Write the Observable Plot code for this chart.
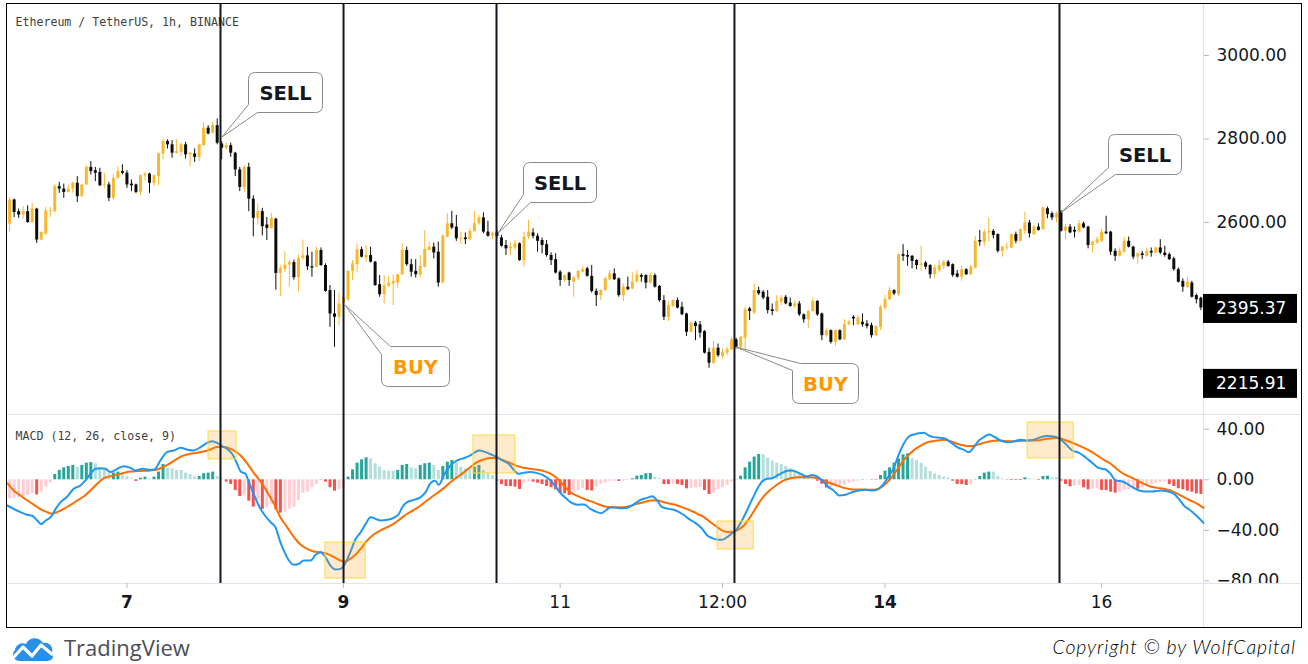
<!DOCTYPE html>
<html><head><meta charset="utf-8">
<script src="https://cdn.jsdelivr.net/npm/d3@7"></script>
<script src="https://cdn.jsdelivr.net/npm/@observablehq/plot@0.6"></script>
<style>
html,body{margin:0;padding:0;background:#fff;}
#root{position:relative;width:1308px;height:664px;overflow:hidden;background:#fff;}
.abs{position:absolute;}
.sep{position:absolute;background:#e0e3eb;}
</style></head><body><div id="root"></div>
<script>
// ---------------- DATA ----------------
const startTime = "2021-06-05T22:00:00Z"; // first hourly bar
const open = [2596,2654,2626,2618,2626,2600,2632,2558,2572,2626,2626,2686,2680,2672,2680,2694,2662,2690,2732,2724,2720,2688,2690,2658,2706,2722,2718,2692,2690,2672,2712,2716,2694,2710,2764,2794,2786,2766,2768,2786,2762,2764,2756,2784,2826,2814,2832,2788,2778,2784,2766,2726,2684,2732,2656,2610,2626,2594,2586,2608,2478,2488,2498,2504,2468,2514,2520,2494,2493,2533,2497,2437,2381,2373,2407,2415,2483,2499,2535,2515,2521,2505,2451,2427,2447,2453,2455,2475,2533,2499,2483,2474,2493,2533,2541,2529,2455,2565,2597,2589,2559,2563,2559,2579,2597,2611,2577,2568,2575,2563,2545,2537,2539,2549,2509,2565,2575,2567,2557,2547,2521,2511,2481,2461,2479,2457,2467,2481,2489,2471,2435,2425,2437,2463,2477,2465,2425,2445,2441,2457,2473,2473,2455,2473,2447,2413,2373,2399,2413,2397,2381,2337,2359,2355,2339,2289,2263,2299,2279,2287,2295,2319,2301,2323,2393,2383,2437,2433,2421,2391,2387,2409,2421,2407,2399,2405,2379,2367,2387,2411,2381,2329,2341,2313,2341,2319,2355,2373,2355,2361,2357,2353,2329,2349,2395,2415,2437,2427,2523,2521,2519,2509,2497,2503,2497,2475,2485,2495,2505,2499,2477,2469,2487,2475,2491,2557,2553,2575,2579,2571,2531,2539,2539,2571,2555,2579,2599,2571,2589,2583,2633,2621,2611,2625,2579,2589,2581,2577,2597,2589,2545,2551,2555,2577,2577,2531,2519,2529,2555,2541,2517,2525,2519,2531,2527,2539,2527,2523,2513,2487,2459,2445,2455,2425,2419];
const high = [2660,2656,2632,2638,2640,2646,2634,2578,2636,2636,2690,2696,2692,2690,2696,2710,2692,2736,2746,2732,2730,2718,2696,2714,2734,2738,2724,2702,2692,2714,2720,2718,2714,2766,2800,2798,2796,2798,2790,2792,2768,2776,2788,2840,2832,2840,2848,2794,2790,2790,2768,2732,2736,2742,2664,2644,2634,2612,2622,2610,2496,2530,2510,2510,2522,2558,2540,2529,2541,2539,2501,2449,2437,2431,2425,2485,2509,2549,2541,2545,2541,2507,2473,2473,2471,2473,2475,2549,2541,2512,2511,2521,2581,2553,2551,2553,2571,2621,2627,2617,2577,2575,2585,2627,2617,2623,2603,2577,2581,2569,2557,2551,2557,2551,2577,2605,2585,2573,2563,2557,2527,2525,2485,2475,2481,2471,2485,2495,2493,2497,2441,2439,2469,2485,2489,2467,2453,2469,2479,2485,2477,2475,2479,2477,2449,2425,2411,2415,2419,2409,2383,2361,2363,2363,2341,2299,2315,2309,2297,2301,2325,2323,2327,2397,2397,2453,2445,2437,2437,2405,2425,2425,2425,2419,2413,2411,2381,2389,2419,2413,2383,2345,2343,2343,2343,2367,2365,2377,2377,2381,2365,2359,2353,2401,2425,2445,2439,2525,2547,2533,2521,2511,2543,2507,2499,2497,2509,2509,2509,2501,2485,2497,2489,2497,2567,2581,2583,2611,2583,2573,2543,2551,2573,2577,2585,2625,2605,2593,2597,2637,2637,2625,2625,2629,2595,2595,2589,2605,2601,2591,2555,2565,2585,2615,2579,2537,2539,2565,2565,2543,2527,2531,2539,2539,2541,2559,2543,2527,2517,2491,2465,2469,2459,2429,2421];
const low = [2578,2612,2610,2608,2598,2598,2550,2556,2570,2612,2624,2670,2658,2670,2670,2648,2660,2688,2714,2698,2686,2682,2650,2652,2704,2714,2682,2674,2669,2664,2700,2670,2686,2688,2750,2776,2754,2764,2758,2752,2734,2744,2746,2782,2810,2812,2786,2750,2774,2756,2710,2674,2672,2626,2566,2594,2568,2557,2584,2438,2422,2480,2446,2462,2434,2510,2485,2469,2491,2495,2433,2349,2301,2353,2397,2411,2461,2479,2515,2505,2503,2447,2421,2405,2445,2401,2443,2473,2495,2469,2467,2467,2491,2533,2513,2445,2453,2563,2583,2555,2547,2547,2557,2577,2593,2573,2565,2559,2565,2541,2521,2521,2533,2507,2493,2559,2561,2529,2525,2517,2497,2477,2447,2457,2447,2421,2461,2479,2469,2431,2399,2413,2435,2461,2461,2421,2411,2437,2439,2455,2457,2441,2453,2443,2409,2365,2363,2397,2393,2377,2327,2335,2317,2323,2285,2251,2259,2277,2273,2281,2293,2297,2293,2295,2365,2379,2425,2415,2381,2377,2385,2401,2403,2397,2393,2375,2359,2347,2385,2375,2317,2325,2309,2303,2317,2317,2353,2353,2353,2349,2345,2323,2327,2341,2389,2413,2425,2423,2507,2495,2489,2487,2483,2487,2465,2467,2479,2487,2493,2469,2467,2459,2473,2473,2489,2543,2543,2553,2561,2527,2517,2533,2537,2549,2553,2571,2563,2569,2579,2581,2609,2605,2599,2577,2559,2573,2563,2575,2585,2537,2527,2547,2551,2571,2521,2507,2517,2527,2539,2511,2499,2511,2517,2517,2525,2523,2517,2509,2483,2455,2433,2443,2419,2405,2389];
const close = [2654,2624,2618,2626,2600,2632,2558,2576,2628,2628,2686,2680,2672,2680,2694,2662,2690,2732,2722,2718,2688,2690,2658,2706,2722,2718,2690,2688,2672,2712,2716,2694,2712,2764,2794,2786,2766,2770,2786,2762,2766,2756,2786,2826,2812,2832,2790,2778,2784,2766,2726,2684,2732,2656,2610,2626,2590,2586,2610,2478,2490,2498,2504,2468,2514,2520,2494,2491,2533,2497,2435,2381,2373,2405,2419,2483,2501,2535,2517,2521,2505,2449,2427,2449,2455,2459,2475,2533,2499,2481,2475,2495,2535,2541,2527,2455,2567,2597,2587,2561,2562,2559,2579,2597,2611,2577,2567,2573,2567,2543,2537,2541,2549,2509,2565,2577,2567,2555,2545,2521,2509,2479,2461,2473,2461,2467,2483,2487,2471,2435,2425,2437,2465,2477,2463,2425,2445,2439,2457,2475,2469,2455,2473,2445,2413,2373,2401,2413,2395,2379,2337,2359,2351,2335,2287,2263,2299,2281,2289,2295,2319,2301,2325,2391,2387,2437,2429,2419,2389,2387,2411,2419,2405,2399,2405,2379,2367,2387,2411,2379,2329,2341,2313,2341,2319,2356,2361,2369,2371,2355,2351,2329,2351,2397,2415,2437,2429,2523,2519,2517,2507,2497,2501,2493,2475,2491,2497,2505,2495,2473,2469,2487,2475,2493,2555,2553,2577,2579,2569,2531,2541,2541,2571,2555,2583,2599,2573,2589,2581,2635,2619,2611,2621,2579,2589,2575,2577,2597,2587,2545,2553,2559,2577,2573,2529,2519,2531,2555,2541,2517,2525,2521,2531,2527,2539,2527,2521,2511,2487,2457,2445,2457,2421,2415,2395.37];

const histogram = [-15.0,-14.8,-14.3,-13.2,-12.4,-11.1,-12.0,-9.8,-5.8,-2.6,4.2,7.4,9.5,10.6,11.4,10.0,11.4,13.2,13.6,12.7,8.7,7.4,4.8,5.3,6.1,5.3,2.6,0.8,-1.3,1.3,2.1,0.8,2.1,6.1,12.1,9.2,8.7,7.4,7.4,5.3,4.2,2.3,2.6,4.8,5.3,6.1,2.6,0.8,-1.8,-3.7,-8.4,-13.2,-12.8,-16.9,-21.6,-16.4,-23.5,-22.4,-19.0,-24.0,-26.4,-25.6,-23.0,-21.6,-16.4,-10.6,-9.8,-6.3,-3.7,0.3,-1.8,-6.3,-9.0,-7.9,-5.8,2.1,7.9,13.2,15.8,17.4,16.6,12.7,10.0,7.4,6.9,6.9,7.4,11.4,12.1,9.5,8.7,11.4,12.7,13.2,11.4,7.4,10.6,14.0,15.3,13.2,10.0,8.7,8.7,10.0,11.4,7.4,5.3,3.4,-1.1,-3.7,-5.3,-5.3,-5.8,-7.7,-2.6,-1.8,-1.8,-2.6,-3.7,-5.3,-6.3,-7.9,-10.6,-11.1,-12.4,-9.8,-8.4,-7.1,-8.4,-8.9,-5.8,-3.7,-2.6,-1.3,-1.1,-1.3,-1.1,-0.5,0.8,2.9,3.4,4.8,5.0,2.1,0.8,-3.7,-3.7,-3.2,-3.7,-4.5,-7.1,-6.8,-6.3,-6.0,-8.4,-11.6,-10.6,-7.9,-6.3,-4.5,-1.8,-0.5,2.9,9.5,14.0,18.0,20.1,19.8,17.2,14.8,13.2,12.1,10.6,8.7,6.6,4.8,3.4,2.1,0.8,-1.1,-3.5,-6.5,-6.0,-5.5,-5.0,-4.2,-2.6,-1.8,-1.1,0.3,0.3,-0.3,-0.4,3.4,6.9,9.5,13.2,16.6,19.8,20.6,16.6,15.3,13.2,10.0,6.6,4.8,3.4,2.1,1.3,-1.1,-3.7,-3.7,-4.5,-4.0,0.3,2.6,5.3,6.1,6.1,2.6,0.8,-0.3,-0.5,-0.5,-0.5,1.6,0.8,0.3,-0.5,2.6,2.9,1.6,1.6,-1.1,-3.7,-5.5,-5.0,-4.6,-6.3,-7.9,-7.4,-7.0,-8.4,-8.6,-9.8,-10.6,-9.8,-8.4,-7.9,-7.1,-7.5,-6.3,-4.5,-3.7,-2.6,-2.2,-1.8,-3.7,-5.3,-7.1,-7.9,-9.0,-9.8,-11.1,-11.6];

// [hours since first bar, value]
const macdLine = [[-0.5,-20.3],[0.9,-23.0],[2.4,-25.6],[3.9,-27.7],[5.0,-28.5],[6.1,-32.2],[7.0,-35.1],[8.0,-32.2],[9.1,-29.6],[10.2,-23.0],[11.3,-17.7],[12.8,-13.2],[14.2,-7.1],[15.7,-4.5],[16.8,-0.5],[17.9,4.7],[19.0,8.7],[20.1,9.2],[21.2,8.7],[22.4,6.1],[23.5,7.9],[24.6,10.0],[25.3,10.8],[26.8,9.5],[27.9,7.4],[29.4,8.7],[30.9,7.9],[32.1,8.2],[33.4,15.3],[34.9,21.9],[36.4,23.2],[37.9,25.3],[39.3,24.0],[40.8,23.2],[42.3,25.9],[43.4,28.5],[44.9,30.6],[46.0,29.3],[47.1,26.7],[48.2,24.5],[49.3,20.6],[50.4,12.7],[51.2,6.6],[52.3,4.7],[53.0,-1.9],[54.1,-11.1],[55.2,-20.3],[56.3,-26.9],[57.8,-33.5],[58.9,-37.5],[60.0,-49.4],[61.1,-58.6],[61.9,-63.9],[63.0,-67.3],[64.1,-66.5],[65.2,-63.9],[66.7,-63.9],[67.8,-59.4],[68.9,-57.3],[70.0,-61.3],[71.1,-67.9],[72.2,-71.0],[73.3,-70.5],[74.4,-66.0],[75.5,-57.3],[76.7,-46.7],[77.8,-41.5],[78.9,-34.9],[80.0,-29.6],[81.1,-30.9],[82.2,-32.2],[83.7,-31.7],[85.1,-30.1],[86.3,-26.9],[87.0,-21.7],[88.1,-17.7],[89.6,-15.9],[91.1,-13.7],[92.2,-9.8],[93.3,-2.5],[94.3,-0.8],[95.1,-4.0],[96.2,3.4],[97.7,11.3],[99.2,15.3],[100.7,17.2],[102.1,19.3],[104.0,23.2],[105.5,21.9],[106.9,19.8],[108.0,17.9],[109.2,15.3],[110.6,12.7],[111.7,7.9],[112.8,4.7],[113.9,5.5],[115.4,6.1],[116.9,5.3],[118.4,3.4],[119.9,-0.5],[121.0,-5.3],[122.1,-10.6],[123.2,-14.3],[124.3,-17.7],[125.8,-19.8],[127.3,-19.5],[128.7,-23.0],[130.2,-25.6],[131.0,-26.4],[132.1,-24.3],[133.2,-21.7],[134.6,-22.2],[136.1,-22.5],[137.6,-21.1],[138.7,-18.5],[139.8,-15.9],[141.3,-14.3],[142.4,-13.0],[143.5,-16.4],[144.6,-21.7],[146.1,-23.0],[147.6,-24.3],[149.0,-26.9],[150.5,-30.9],[152.0,-34.3],[153.5,-38.8],[154.6,-44.1],[155.7,-46.2],[156.8,-47.3],[157.9,-47.5],[159.0,-45.4],[160.1,-42.3],[161.2,-38.8],[162.3,-32.2],[163.4,-24.3],[164.6,-15.1],[165.7,-7.1],[166.8,-1.1],[167.9,0.8],[169.0,1.3],[170.1,3.4],[171.2,5.5],[172.3,7.1],[173.4,7.4],[174.5,6.1],[175.6,4.2],[176.7,2.6],[177.9,3.9],[179.0,2.6],[180.1,-0.5],[181.5,-5.8],[182.6,-8.5],[183.8,-12.4],[185.2,-11.9],[186.7,-9.8],[188.2,-8.5],[189.7,-7.9],[191.5,-8.5],[192.6,-7.1],[193.7,-3.2],[194.9,3.4],[196.0,10.0],[197.1,20.6],[198.2,29.0],[199.3,34.3],[200.4,35.9],[201.5,36.9],[202.6,37.2],[203.7,35.1],[204.8,33.8],[206.3,33.2],[207.4,32.5],[208.5,29.8],[210.0,25.9],[211.5,23.7],[212.6,21.9],[213.7,25.9],[214.8,31.1],[215.9,33.8],[217.0,35.9],[218.1,34.3],[219.6,31.1],[221.1,29.8],[222.5,30.3],[224.0,31.7],[225.5,31.1],[227.0,31.7],[228.5,33.8],[229.9,34.6],[231.4,34.3],[232.7,32.5],[234.0,28.5],[235.5,23.2],[237.0,21.4],[238.4,17.9],[239.9,13.5],[241.4,9.2],[242.9,8.2],[244.0,4.7],[245.1,-0.5],[246.6,-1.3],[247.7,-3.2],[248.8,-5.8],[250.3,-8.5],[251.7,-9.3],[253.2,-9.3],[255.1,-8.5],[256.5,-9.0],[258.0,-11.1],[259.1,-15.1],[260.2,-20.3],[261.7,-24.3],[263.2,-29.0],[264.6,-34.1]];
const signalLine = [[-0.5,-2.7],[0.9,-8.5],[2.4,-12.4],[3.9,-16.4],[5.4,-19.8],[6.8,-23.2],[8.3,-25.6],[9.4,-26.9],[10.5,-25.6],[12.0,-23.0],[13.5,-19.8],[15.0,-16.4],[16.5,-13.0],[17.9,-8.5],[19.4,-3.2],[20.9,1.3],[22.4,2.9],[23.8,4.2],[25.3,5.5],[26.8,6.6],[28.3,6.9],[29.7,7.1],[31.2,7.4],[32.7,8.2],[34.2,10.5],[35.7,13.4],[37.1,16.6],[38.6,19.3],[40.1,20.6],[41.6,21.4],[43.0,22.4],[44.5,24.0],[46.0,25.9],[47.5,25.9],[49.0,24.5],[49.7,23.2],[51.2,19.3],[52.6,13.2],[54.1,5.5],[55.6,-1.3],[57.1,-9.8],[58.6,-19.0],[60.0,-29.6],[61.5,-37.5],[63.0,-45.4],[64.5,-51.5],[66.0,-54.7],[67.4,-56.8],[68.9,-57.3],[70.4,-58.6],[71.9,-61.3],[73.3,-63.9],[74.4,-64.7],[75.5,-62.6],[76.7,-59.2],[77.8,-54.7],[79.2,-48.1],[80.7,-43.3],[82.2,-40.1],[83.7,-37.5],[85.1,-34.9],[86.6,-30.9],[88.1,-26.9],[89.6,-23.8],[91.1,-20.3],[92.5,-16.4],[94.0,-12.4],[96.2,-6.6],[97.7,-1.9],[99.2,2.1],[100.7,6.1],[102.1,10.0],[103.6,14.0],[105.1,16.1],[106.6,17.2],[108.0,17.2],[109.5,15.3],[111.0,13.2],[112.5,10.8],[114.0,9.5],[115.4,8.7],[116.9,7.9],[118.4,6.9],[119.9,4.7],[121.3,1.3],[122.8,-4.5],[124.3,-9.8],[125.8,-12.7],[127.3,-15.1],[128.7,-16.9],[130.2,-19.0],[131.7,-20.9],[133.2,-21.7],[134.6,-21.7],[136.1,-21.7],[137.6,-20.6],[139.1,-19.0],[140.6,-17.7],[142.0,-16.4],[143.5,-16.4],[145.0,-17.7],[146.5,-19.0],[148.0,-20.3],[149.4,-22.2],[150.9,-24.3],[152.4,-26.9],[153.9,-29.6],[155.3,-33.5],[156.8,-37.5],[158.3,-40.7],[159.8,-41.5],[161.2,-40.1],[162.7,-36.2],[164.2,-29.0],[165.7,-20.3],[167.1,-13.2],[168.6,-7.9],[170.1,-3.7],[171.6,-0.5],[173.1,1.3],[174.5,2.1],[176.0,2.1],[177.5,2.1],[179.0,1.3],[180.4,-0.5],[181.9,-2.7],[183.4,-4.5],[184.9,-6.4],[186.3,-7.4],[187.8,-7.7],[189.3,-7.7],[191.5,-7.9],[192.6,-7.1],[193.7,-4.5],[194.9,-0.5],[196.0,4.7],[197.1,10.0],[198.2,15.8],[199.6,21.1],[201.1,25.3],[202.6,28.5],[204.1,30.3],[205.6,31.1],[207.0,31.7],[208.5,30.6],[210.0,28.5],[211.5,27.2],[213.0,26.7],[214.4,27.7],[215.9,29.3],[217.4,30.6],[218.9,31.1],[221.1,30.6],[223.3,30.6],[225.5,31.1],[227.7,31.1],[229.9,32.5],[232.2,33.0],[233.6,31.9],[235.1,29.8],[236.6,27.7],[238.1,25.3],[239.5,22.7],[241.0,19.3],[242.5,15.8],[244.0,12.7],[245.5,8.2],[246.9,4.7],[248.4,2.1],[249.9,-0.5],[251.4,-3.2],[252.8,-5.3],[254.3,-6.4],[255.8,-7.1],[257.3,-8.5],[258.8,-11.1],[260.2,-13.7],[261.7,-16.4],[263.2,-19.0],[264.6,-22.2]];

const signalTimes = ["2021-06-07T20:44Z","2021-06-09T00:00Z","2021-06-10T09:54Z","2021-06-12T14:38Z","2021-06-15T14:40Z"];
const signalLabels = ["SELL","BUY","SELL","BUY","SELL"];
const signalPrices = [2803.6, 2401.2, 2573.0, 2300.6, 2622.8];

const highlightStart = ["2021-06-07T18:05Z","2021-06-08T20:00Z","2021-06-10T04:48Z","2021-06-12T10:54Z","2021-06-15T07:36Z"];
const highlightEnd   = ["2021-06-08T00:17Z","2021-06-09T04:54Z","2021-06-10T14:06Z","2021-06-12T18:54Z","2021-06-15T17:48Z"];
const highlightTop    = [38.3, -49.7, 35.1, -33.0, 45.4];
const highlightBottom = [16.1, -78.2, 5.0, -55.2, 16.9];

const priceTicks = [2600, 2800, 3000];
const priceMarkers = [2395.37, 2215.91];
const macdTicks = [40, 0, -40, -80];
const timeTicks = ["2021-06-07T00:00Z","2021-06-09T00:00Z","2021-06-11T00:00Z","2021-06-12T12:00Z","2021-06-14T00:00Z","2021-06-16T00:00Z"];
const timeTickLabels = ["7","9","11","12:00","14","16"];
const boldTimeLabels = ["7","9","14"];

const chartTitle = "Ethereum / TetherUS, 1h, BINANCE";
const macdTitle = "MACD (12, 26, close, 9)";

// ---------------- STYLE / LAYOUT ----------------
const HOUR = 3600e3;
const t0 = +new Date(startTime);
const W = 1294, MR = 98;
const xDomain = [new Date(t0 - 0.47 * HOUR), new Date(t0 + 264.58 * HOUR)];
const UP = "#f9b82c", DOWN = "#0c0c0c", INK = "#131722";
const FONT = "DejaVu Sans";
const calloutLayout = [
  {dx: 28, dy: -65, w: 74, corner: "bl", c1: 8, c2: 9},
  {dx: 38, dy: 41, w: 68, corner: "tl", c1: 8, c2: 9},
  {dx: 27, dy: -71, w: 73, corner: "bl", c1: 8, c2: 7},
  {dx: 58, dy: 16, w: 66, corner: "tl", c1: 7, c2: 8},
  {dx: 49, dy: -78, w: 73, corner: "bl", c1: 7, c2: 7}
];

const candles = open.map((o, i) => ({t: new Date(t0 + i * HOUR), o, h: high[i], l: low[i], c: close[i]}));
const signalDates = signalTimes.map(s => new Date(s));
const HC = {ga: "#26a69a", fa: "#b2dfdb", gb: "#ffcdd2", fb: "#f05350"};
const histBars = histogram.map((v, i) => {
  const p = i ? histogram[i - 1] : v - 1;
  return {t: new Date(t0 + i * HOUR), v, color: v >= 0 ? (p < v ? HC.ga : HC.fa) : (p < v ? HC.gb : HC.fb)};
});
const macdPts = macdLine.map(([h, v]) => ({t: new Date(t0 + h * HOUR), v}));
const sigPts = signalLine.map(([h, v]) => ({t: new Date(t0 + h * HOUR), v}));
const highlights = highlightStart.map((s, i) => ({t1: new Date(s), t2: new Date(highlightEnd[i]), hi: highlightTop[i], lo: highlightBottom[i]}));

function calloutPath(tx, ty, bx, by, w, h, r, L) {
  const R = bx + w, B = by + h;
  if (L.corner === "bl") {
    return `M${tx},${ty}L${bx},${B - L.c1}L${bx},${by + r}Q${bx},${by} ${bx + r},${by}L${R - r},${by}Q${R},${by} ${R},${by + r}L${R},${B - r}Q${R},${B} ${R - r},${B}L${bx + L.c2},${B}Z`;
  }
  return `M${tx},${ty}L${bx + L.c2},${by}L${R - r},${by}Q${R},${by} ${R},${by + r}L${R},${B - r}Q${R},${B} ${R - r},${B}L${bx + r},${B}Q${bx},${B} ${bx},${B - r}L${bx},${by + L.c1}Z`;
}

const callouts = (index, scales) => {
  const g = d3.create("svg:g");
  signalDates.forEach((d, k) => {
    const L = calloutLayout[k];
    const lx = scales.x(d);
    const tx = lx + 2, ty = scales.y(signalPrices[k]);
    const bx = Math.round(lx + L.dx) + 0.5, by = Math.round(ty + L.dy) + 0.5, h = 40;
    g.append("path").attr("d", calloutPath(tx, ty, bx, by, L.w, h, 7, L))
      .attr("fill", "#fff").attr("stroke", "#8a8a8a").attr("stroke-width", 1);
    g.append("text").attr("x", bx + L.w / 2).attr("y", by + h / 2 + 1)
      .attr("text-anchor", "middle").attr("dominant-baseline", "central")
      .attr("font-family", FONT).attr("font-weight", "bold").attr("font-size", 19.5)
      .attr("fill", signalLabels[k] === "BUY" ? "#ff9800" : INK).text(signalLabels[k]);
  });
  return g.node();
};

const markers = (index, scales, values, dim) => {
  const g = d3.create("svg:g");
  const x0 = dim.width - dim.marginRight;
  priceMarkers.forEach(p => {
    const y = scales.y(p);
    g.append("rect").attr("x", x0).attr("y", y - 13.5).attr("width", 94).attr("height", 29).attr("fill", "#000");
    g.append("text").attr("x", x0 + 13).attr("y", y + 1).attr("dominant-baseline", "central")
      .attr("text-anchor", "start")
      .attr("font-family", FONT).attr("font-size", 17).attr("fill", "#fff").text(p.toFixed(2));
  });
  return g.node();
};

// ---------------- PLOTS ----------------
const pricePlot = Plot.plot({
  width: W, height: 410, marginLeft: 0, marginRight: MR, marginTop: 0, marginBottom: 0,
  x: {type: "utc", domain: xDomain, axis: null},
  y: {domain: [2140.2, 3122.1], axis: null},
  style: {fontFamily: FONT, background: "transparent", color: INK, overflow: "visible"},
  marks: [
    Plot.axisY({anchor: "right", ticks: priceTicks, tickFormat: d => d.toFixed(2), tickSize: 5, tickPadding: 8,
      fontSize: 17, stroke: "#b8bbc3", fill: INK, label: null}),
    Plot.text([chartTitle], {text: d => d, frameAnchor: "top-left", dx: 8, dy: 18, lineAnchor: "middle",
      fontFamily: "DejaVu Sans Mono", fontSize: 11.6, fill: "#404040"}),
    Plot.ruleX(candles, {x: "t", y1: "l", y2: "h", stroke: d => d.c >= d.o ? UP : DOWN, strokeWidth: 1}),
    Plot.ruleX(candles, {x: "t", y1: "o", y2: "c", stroke: d => d.c >= d.o ? UP : DOWN, strokeWidth: 3}),
    Plot.ruleX(signalDates, {stroke: INK, strokeWidth: 2}),
    callouts,
    markers
  ]
});

const macdPlot = Plot.plot({
  width: W, height: 169, marginLeft: 0, marginRight: MR, marginTop: 0, marginBottom: 0,
  x: {type: "utc", domain: xDomain, axis: null},
  y: {domain: [-82.1, 51.7], axis: null},
  style: {fontFamily: FONT, background: "transparent", color: INK, overflow: "hidden"},
  marks: [
    Plot.axisY({anchor: "right", ticks: macdTicks, tickFormat: d => (d < 0 ? "\u2212" : "") + Math.abs(d).toFixed(2),
      tickSize: 5, tickPadding: 8, fontSize: 17, stroke: "#b8bbc3", fill: INK, label: null}),
    Plot.text([macdTitle], {text: d => d, frameAnchor: "top-left", dx: 8, dy: 21.5, lineAnchor: "middle",
      fontFamily: "DejaVu Sans Mono", fontSize: 11.6, fill: "#404040"}),
    Plot.ruleX(histBars, {x: "t", y1: 0, y2: "v", stroke: "color", strokeWidth: 3}),
    Plot.line(sigPts, {x: "t", y: "v", stroke: "#ff6d00", strokeWidth: 2, curve: "monotone-x"}),
    Plot.line(macdPts, {x: "t", y: "v", stroke: "#2196f3", strokeWidth: 2, curve: "monotone-x"}),
    Plot.rect(highlights, {x1: "t1", x2: "t2", y1: "lo", y2: "hi", fill: "#ff9800", fillOpacity: 0.2, stroke: "#f8dc3c", strokeWidth: 1}),
    Plot.ruleX(signalDates, {stroke: INK, strokeWidth: 2})
  ]
});

const tickDates = timeTicks.map(s => new Date(s));
const tickRows = tickDates.map((t, i) => ({t, label: timeTickLabels[i], bold: boldTimeLabels.includes(timeTickLabels[i])}));
const timePlot = Plot.plot({
  width: W, height: 44, marginLeft: 0, marginRight: MR, marginTop: 0, marginBottom: 0,
  x: {type: "utc", domain: xDomain, axis: null},
  style: {fontFamily: FONT, background: "transparent", color: INK, overflow: "visible"},
  marks: [
    Plot.ruleX(tickDates, {stroke: "#b8bbc3", insetBottom: 39}),
    Plot.text(tickRows.filter(d => !d.bold), {x: "t", text: "label", frameAnchor: "top", dy: 19, lineAnchor: "middle", fontSize: 17, fill: INK}),
    Plot.text(tickRows.filter(d => d.bold), {x: "t", text: "label", frameAnchor: "top", dy: 19, lineAnchor: "middle", fontSize: 17, fontWeight: "bold", fill: INK})
  ]
});

// ---------------- ASSEMBLE ----------------
const root = document.getElementById("root");
function place(el, left, top, w, h, cls) {
  const d = document.createElement("div");
  d.className = cls || "abs";
  Object.assign(d.style, {left: left + "px", top: top + "px", width: w + "px", height: h + "px"});
  if (el) d.appendChild(el);
  root.appendChild(d);
  return d;
}
// separators (under plots)
place(null, 7, 414, 1294, 1, "sep");
place(null, 7, 583, 1294, 1, "sep");
place(null, 1203, 4, 1, 623, "sep");
const p1 = place(pricePlot, 7, 4, W, 410);
const p2 = place(macdPlot, 7, 414, W, 169); p2.style.overflow = "hidden";
const p3 = place(timePlot, 7, 583, W, 44);
// outer frame
const frame = place(null, 6, 3, 1296, 625);
Object.assign(frame.style, {border: "1px solid #000", boxSizing: "border-box", pointerEvents: "none"});

// footer
const logo = place(null, 10, 633, 48, 30);
logo.innerHTML = '<svg width="46" height="30" viewBox="0 0 46 30"><path d="M10 28 C3 28 1 21 5 17 C6 11 12 9 16 11 C19 4 29 3 33 10 C39 9 44 14 42 20 C45 25 41 28 37 28 Z" fill="#2a8fe8"/><polyline points="3,25 13,14 22,23 31,12 43,22" fill="none" stroke="#fff" stroke-width="3.2" stroke-linejoin="round"/></svg>';
const tv = place(null, 64, 632, 200, 30);
Object.assign(tv.style, {fontFamily: "'Open Sans', sans-serif", fontSize: "22px", color: "#4a4e58", lineHeight: "30px"});
tv.textContent = "TradingView";
const cp = place(null, 900, 633, 396, 28);
Object.assign(cp.style, {fontFamily: "Lato, sans-serif", fontStyle: "italic", fontWeight: "300", fontSize: "19.5px", color: "#000", textAlign: "right", lineHeight: "28px", letterSpacing: "0.9px"});
cp.textContent = "Copyright \u00a9 by WolfCapital";
</script></body></html>
